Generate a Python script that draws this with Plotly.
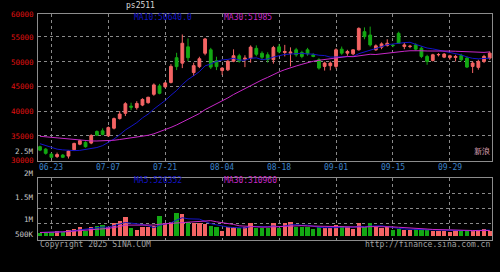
import plotly.graph_objects as go
import pandas as pd

# ---------------- data ----------------
dates = [d.strftime('%m-%d') for d in pd.bdate_range('2025-06-19', '2025-10-16')
         if not (pd.Timestamp('2025-10-01') <= d <= pd.Timestamp('2025-10-08'))]

open_ = [32800, 32300, 31300, 30800, 31100, 30900, 32200, 33300, 33660, 33530,
         35870, 36000, 35000, 36540, 38480, 39550, 41000, 40700, 41220, 41700,
         43400, 45100, 44900, 45800, 50800, 49700, 53000, 47800, 49000, 51700,
         52400, 50200, 48200, 48350, 50100, 51200, 50500, 50700, 52700, 51700,
         51390, 50400, 53000, 51860, 51730, 52400, 51860, 52400, 51390, 50390,
         49050, 49180, 49050, 52530, 51730, 51590, 52400, 56070, 55400, 52400,
         52930, 53260, 53330, 55740, 53060, 53060, 53400, 52730, 51060, 50250,
         51390, 50920, 50850, 50850, 51260, 50720, 49050, 48850, 50050, 50720]
high_ = [33000, 32500, 31500, 31600, 31300, 32100, 33600, 34200, 33900, 35300,
         36100, 36500, 36900, 38700, 40000, 41800, 41700, 42000, 42600, 42900,
         45600, 45500, 45900, 49500, 51800, 55500, 54700, 49800, 51000, 54800,
         52800, 51000, 48900, 50300, 52500, 51600, 51300, 53300, 53300, 52100,
         51900, 53200, 53600, 53400, 52900, 52800, 52200, 52800, 51700, 50700,
         50000, 50050, 52700, 53060, 52400, 52530, 56940, 56940, 57100, 53500,
         53900, 54530, 53600, 56070, 53870, 53400, 53730, 53060, 51390, 51590,
         51730, 51730, 51390, 51390, 51590, 51060, 50050, 50390, 51390, 52060]
low_ = [31900, 31200, 30500, 30500, 30500, 30400, 32000, 33100, 32600, 33300,
        35000, 35100, 34800, 36300, 38300, 39000, 40200, 40300, 41000, 41500,
        43100, 43400, 44700, 45600, 48300, 48700, 50100, 47100, 48700, 51300,
        48500, 48300, 47300, 48100, 49900, 49800, 48900, 49800, 51100, 50500,
        49800, 49600, 51700, 51060, 49050, 51000, 50700, 51200, 50900, 48400,
        48200, 48250, 48600, 51390, 51200, 51300, 52260, 54530, 53060, 52200,
        52530, 53060, 52930, 53600, 52530, 52730, 52260, 50720, 49380, 50050,
        51060, 50720, 50390, 50050, 50050, 48710, 47710, 48380, 49720, 50390]
close_ = [32100, 31450, 30650, 31200, 30650, 31900, 33460, 34000, 32800, 35070,
          35130, 35270, 36670, 38480, 39400, 41490, 40800, 41550, 42360, 42800,
          45300, 43600, 45700, 49050, 49000, 53730, 50800, 49200, 50600, 54600,
          48900, 49000, 48700, 50100, 51200, 50100, 50700, 52950, 51500, 50900,
          50400, 52860, 52000, 52060, 51930, 51390, 51060, 51590, 51060, 48710,
          49720, 49720, 52400, 51730, 52060, 52400, 56740, 55070, 53400, 53200,
          53600, 53730, 53260, 53730, 53400, 53130, 52530, 51060, 50050, 51390,
          51460, 51530, 51190, 51060, 50390, 48910, 49720, 50050, 51060, 51730]
volume_k = [100, 100, 128, 150, 128, 183, 216, 294, 161, 294,
            316, 350, 272, 427, 494, 627, 239, 183, 294, 272,
            316, 649, 405, 461, 738, 716, 461, 405, 405, 372,
            327, 272, 161, 272, 294, 261, 272, 405, 261, 261,
            261, 405, 261, 405, 439, 294, 294, 294, 205, 272,
            239, 239, 350, 316, 272, 205, 405, 272, 405, 294,
            239, 272, 183, 205, 183, 183, 205, 205, 183, 161,
            161, 161, 128, 161, 161, 183, 161, 183, 205, 161]
ma10_early = [33400, 33000, 32600, 32300, 32150, 32050, 32000, 32050, 32250]
ma30_early = [34900, 34800, 34700, 34550, 34400, 34250, 34150, 34050, 34000, 33950,
              33950, 33950, 34000, 34100, 34250, 34400, 34550, 34700, 34900, 35100,
              35400, 35800, 36200, 36700, 37200, 37800, 38350, 38900, 39500]

tick_dates = ['06-23', '07-07', '07-21', '08-04', '08-18', '09-01', '09-15', '09-29']
price_ticks = [60000, 55000, 50000, 45000, 40000, 35000, 30000]
vol_labels = ['2.5M', '2M', '1.5M', '1M', '500K']
title_text = 'ps2511'
ma_main_texts = ['MA10:50640.0', 'MA30:51985']
ma_vol_texts = ['MA5:526352', 'MA30:310960']

# ---------------- derived ----------------
n = len(close_)
xs = list(range(n))
cs = pd.Series(close_, dtype=float)
ma10 = cs.rolling(10).mean().tolist()
ma30 = cs.rolling(30).mean().tolist()
ma10[:len(ma10_early)] = ma10_early
ma30[:len(ma30_early)] = ma30_early
vol = [v * 1000 for v in volume_k]
vs = pd.Series(vol, dtype=float)
vma5 = vs.rolling(5, min_periods=1).mean().tolist()
vma10 = vs.rolling(10, min_periods=1).mean().tolist()

RED = '#F46464'
GREEN = '#13A813'
BLUE = '#1414C8'
MAG = '#C828C8'
GRID = '#8a8a8a'
BORDER = '#8c8c8c'
FONT = 'DejaVu Sans Mono'

W, H = 500, 272
L, R, T, B = 38, 8, 14, 32
PW, PH = W - L - R, H - T - B


def px(x):
    return (x - L) / PW


def py(y):
    return (H - B - y) / PH


main_dom = [py(161), 1.0]
vol_dom = [0.0, py(178)]

fig = go.Figure()
fig.add_trace(go.Candlestick(
    x=xs, open=open_, high=high_, low=low_, close=close_,
    increasing=dict(line=dict(color=RED, width=1), fillcolor=RED),
    decreasing=dict(line=dict(color=GREEN, width=1), fillcolor=GREEN),
    whiskerwidth=0, xaxis='x', yaxis='y', showlegend=False))
fig.add_trace(go.Scatter(x=xs, y=ma10, mode='lines', line=dict(color=BLUE, width=1),
                         xaxis='x', yaxis='y', showlegend=False))
fig.add_trace(go.Scatter(x=xs, y=ma30, mode='lines', line=dict(color=MAG, width=1),
                         xaxis='x', yaxis='y', showlegend=False))

bar_colors = [RED if c >= o else GREEN for o, c in zip(open_, close_)]
fig.add_trace(go.Bar(x=xs, y=vol, marker=dict(color=bar_colors, line=dict(width=0)),
                     width=0.75, xaxis='x2', yaxis='y2', showlegend=False))
fig.add_trace(go.Scatter(x=xs, y=vma5, mode='lines', line=dict(color=BLUE, width=1),
                         xaxis='x2', yaxis='y2', showlegend=False))
fig.add_trace(go.Scatter(x=xs, y=vma10, mode='lines', line=dict(color=MAG, width=1),
                         xaxis='x2', yaxis='y2', showlegend=False))

tick_idx = [dates.index(d) for d in tick_dates]
xr = [-0.35, n - 0.6]
common_x = dict(range=xr, tickvals=tick_idx, showticklabels=False, showgrid=True,
                gridcolor=GRID, griddash='dot', gridwidth=1, zeroline=False,
                showline=True, linecolor=BORDER, linewidth=1, mirror=True, ticks='',
                rangeslider=dict(visible=False), fixedrange=True)

vol_per_px = 33300
vol_base_y = 235.5
grid_vol = [(vol_base_y - yy) * vol_per_px for yy in (223, 208, 193)]

fig.update_layout(
    width=W, height=H, margin=dict(l=L, r=R, t=T, b=B),
    paper_bgcolor='black', plot_bgcolor='black',
    bargap=0, showlegend=False,
    xaxis=dict(domain=[0, 1], anchor='y', **common_x),
    xaxis2=dict(domain=[0, 1], anchor='y2', **common_x),
    yaxis=dict(domain=main_dom, range=[29900, 59650], tickvals=[35000, 40000, 45000, 50000, 55000],
               showticklabels=False, showgrid=True, gridcolor=GRID, griddash='dot', zeroline=False,
               showline=True, linecolor=BORDER, mirror=True, ticks=''),
    yaxis2=dict(domain=vol_dom, range=[-(240 - vol_base_y) * vol_per_px, (vol_base_y - 178) * vol_per_px],
                tickvals=grid_vol, showticklabels=False, showgrid=True, gridcolor=GRID, griddash='dot',
                zeroline=False, showline=True, linecolor=BORDER, mirror=True, ticks=''),
)

ann = []


def text(x, y, s, color, size=8, xanchor='center'):
    ann.append(dict(x=px(x), y=py(y), xref='paper', yref='paper', text=s, showarrow=False,
                    font=dict(family=FONT, size=size, color=color), xanchor=xanchor, yanchor='middle'))


# price labels (red), right aligned at x=36
price_y = [14, 37, 62, 86, 111, 136, 160.5]
for v, yy in zip(price_ticks, price_y):
    text(36, yy, str(v), '#E01010', size=7.5, xanchor='right')
# volume labels (grey)
for s, yy in zip(vol_labels, [151, 173, 197, 219, 234]):
    text(36, yy, s, '#C8C8C8', size=7.5, xanchor='right')
# date labels
for d, i in zip(tick_dates, tick_idx):
    xpix = L + (i - xr[0]) / (xr[1] - xr[0]) * PW
    text(xpix, 167, d, '#3C82C8')
# title & legends
text(140, 6, title_text, '#D8D8D8')
text(132, 17, ma_main_texts[0], BLUE, xanchor='left')
text(222, 17, ma_main_texts[1], MAG, xanchor='left')
text(132, 181, ma_vol_texts[0], BLUE, xanchor='left')
text(222, 181, ma_vol_texts[1], MAG, xanchor='left')
text(38, 245, 'Copyright 2025 SINA.COM', '#A0A0A0', xanchor='left')
text(492, 245, 'http://finance.sina.com.cn', '#A0A0A0', xanchor='right')
text(482, 151, '新浪', '#E8B0C0', size=8)

fig.update_layout(annotations=ann)
fig.write_html('out.html')
